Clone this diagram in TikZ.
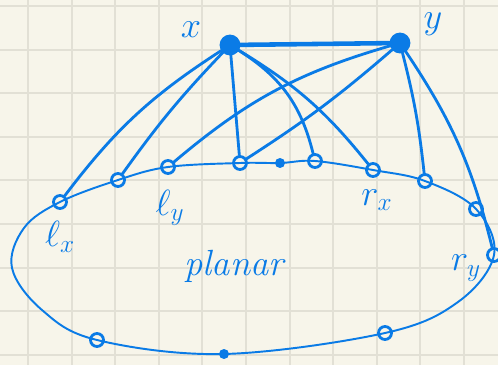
\documentclass[tikz,border=0pt]{standalone}
\usepackage{tikz}
\usetikzlibrary{positioning}
\definecolor{pen}{HTML}{0A7BE6}
\definecolor{paper}{HTML}{F7F5EA}
\definecolor{rule}{HTML}{E2E0D5}
\tikzset{
  vtx/.style={circle,draw=pen,fill=paper,line width=1.6pt,inner sep=0pt,minimum size=0.26cm},
  dotv/.style={circle,fill=pen,inner sep=0pt,minimum size=0.2cm},
  bigv/.style={circle,draw=pen,fill=pen,line width=1.6pt,inner sep=0pt,minimum size=0.36cm},
  edge/.style={draw=pen,line width=1.6pt,line cap=round},
  rim/.style={draw=pen,line width=1.1pt},
  lbl/.style={text=pen,font=\huge}
}
\begin{document}
\begin{tikzpicture}[x=0.02cm,y=-0.02cm]
\fill[paper] (0,0) rectangle (498,365);
\useasboundingbox (0,0) rectangle (498,365);
% squared paper
\foreach \i in {0,...,10} \draw[rule,line width=1.1pt] ({28+43.6*\i},0) -- ({28+43.6*\i},365);
\foreach \j in {0,...,8} \draw[rule,line width=1.1pt] (0,{6+43.6*\j}) -- (498,{6+43.6*\j});

% the two outer vertices
\node[bigv] (x) at (230,45) {};
\node[bigv] (y) at (400,43) {};
\node[lbl] (xl) at (191,30) {$x$};
\node[lbl] (yl) at (433,24) {$y$};

% vertices on the outer face
\node[vtx] (lx) at (60,202) {};
\node[vtx] (a) at (118,180) {};
\node[vtx] (ly) at (168,167) {};
\node[vtx] (b) at (240,163) {};
\node[dotv] (c) at (280,163) {};
\node[vtx] (d) at (315,161) {};
\node[vtx] (rx) at (373,170) {};
\node[vtx] (e) at (425,181) {};
\node[vtx] (f) at (476,209) {};
\node[vtx] (ry) at (494,255) {};
\node[vtx] (g) at (385,333) {};
\node[dotv] (h) at (224,354) {};
\node[vtx] (k) at (97,340) {};
\coordinate (w1) at (12,268);
\coordinate (w2) at (42,310);
\coordinate (w3) at (458,302);
\coordinate (w4) at (24,228);

\draw[rim] plot[smooth cycle,tension=0.6] coordinates {(lx.center) (a.center) (ly.center) (b.center) (c.center) (d.center) (rx.center) (e.center) (f.center) (ry.center) (w3) (g.center) (h.center) (k.center) (w2) (w1) (w4)};

\node[lbl] (lxl) at (60,237) {$\ell_x$};
\node[lbl] (lyl) at (170,208) {$\ell_y$};
\node[lbl] (rxl) at (377,200) {$r_x$};
\node[lbl] (ryl) at (466,268) {$r_y$};
\node[text=pen,font=\huge\itshape] (pl) at (234,266) {planar};

% edges
\draw[edge,line width=2.6pt] (x) -- (y);
\draw[edge] (x) to[bend right=10] (lx);
\draw[edge] (x) to[bend right=4] (a);
\draw[edge] (x) -- (b);
\draw[edge] (x) to[bend left=22] (d);
\draw[edge] (x) to[bend left=10] (rx);
\draw[edge] (y) to[bend right=12] (ly);
\draw[edge] (y) to[bend left=4] (b);
\draw[edge] (y) to[bend left=4] (e);
\draw[edge] (y) to[bend left=10] (ry);

\end{tikzpicture}
\end{document}
